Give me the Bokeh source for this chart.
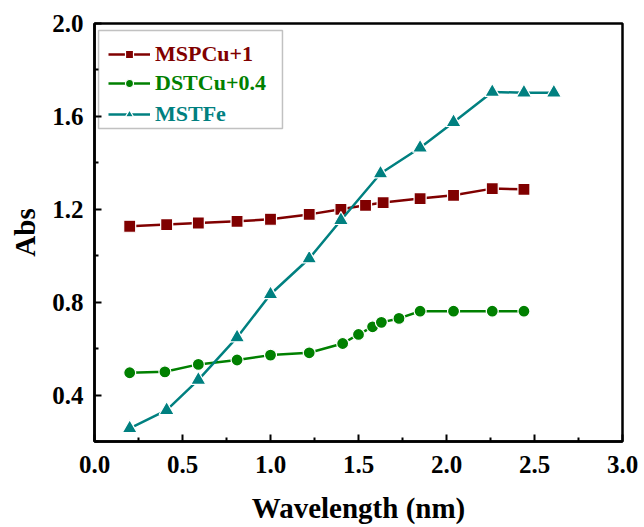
from bokeh.plotting import figure
from bokeh.models import Range1d, FixedTicker, Legend, LegendItem, BoxAnnotation, PrintfTickFormatter
from bokeh.embed import file_html
from bokeh.resources import INLINE

# ---- data ----
x_mspcu = [0.20, 0.41, 0.59, 0.81, 1.00, 1.22, 1.40, 1.54, 1.64, 1.85, 2.04, 2.26, 2.44]
y_mspcu = [1.127, 1.134, 1.141, 1.148, 1.157, 1.178, 1.200, 1.217, 1.229, 1.246, 1.260, 1.289, 1.286]

x_dstcu = [0.20, 0.40, 0.59, 0.81, 1.00, 1.22, 1.41, 1.50, 1.58, 1.63, 1.73, 1.85, 2.04, 2.26, 2.44]
y_dstcu = [0.496, 0.500, 0.532, 0.551, 0.572, 0.582, 0.622, 0.661, 0.694, 0.713, 0.730, 0.761, 0.761, 0.761, 0.761]

x_mstfe = [0.20, 0.41, 0.59, 0.81, 1.00, 1.22, 1.40, 1.625, 1.85, 2.04, 2.26, 2.44, 2.61]
y_mstfe = [0.257, 0.335, 0.465, 0.648, 0.834, 0.988, 1.153, 1.354, 1.465, 1.575, 1.705, 1.702, 1.702]

labels = ["MSPCu+1", "DSTCu+0.4", "MSTFe"]
colors = ["#800000", "#008000", "#008080"]

x_ticks = [0.0, 0.5, 1.0, 1.5, 2.0, 2.5, 3.0]
x_minor = [0.25, 0.75, 1.25, 1.75, 2.25, 2.75]
y_ticks = [0.4, 0.8, 1.2, 1.6, 2.0]
y_minor = [0.2, 0.6, 1.0, 1.4, 1.8]

x_title = "Wavelength (nm)"
y_title = "Abs"

FONT = "Liberation Serif"

p = figure(width=644, height=527, output_backend="svg", toolbar_location=None,
           x_range=Range1d(0, 3.0), y_range=Range1d(0.2, 2.0),
           min_border_left=94, min_border_right=22, min_border_top=23, min_border_bottom=86)
p.grid.visible = False
p.background_fill_color = "white"
p.border_fill_color = "white"
p.outline_line_color = "black"
p.outline_line_width = 2.5

for ax in (p.xaxis[0], p.yaxis[0]):
    ax.axis_line_width = 2.5
    ax.major_tick_line_width = 2
    ax.minor_tick_line_width = 2
    ax.major_tick_in = 7
    ax.major_tick_out = 0
    ax.minor_tick_in = 4
    ax.minor_tick_out = 0
    ax.major_label_text_font = FONT
    ax.major_label_text_font_style = "bold"
    ax.major_label_text_font_size = "25px"
    ax.major_label_text_color = "black"
    ax.axis_label_text_font = FONT
    ax.axis_label_text_font_style = "bold"
    ax.axis_label_text_font_size = "29px"
    ax.axis_label_text_color = "black"
    ax.major_label_standoff = 11
    ax.formatter = PrintfTickFormatter(format="%.1f")

p.xaxis[0].ticker = FixedTicker(ticks=x_ticks, minor_ticks=x_minor)
p.yaxis[0].ticker = FixedTicker(ticks=y_ticks, minor_ticks=y_minor)
p.xaxis[0].axis_label = x_title
p.yaxis[0].axis_label = y_title
p.xaxis[0].major_label_standoff = 14
p.xaxis[0].axis_label_standoff = 16
p.yaxis[0].axis_label_standoff = 8
p.yaxis[0].major_label_orientation = "horizontal"

series = [(x_mspcu, y_mspcu, "square", 12),
          (x_dstcu, y_dstcu, "circle", 12),
          (x_mstfe, y_mstfe, "triangle", 15)]

renderers = []
for (xs, ys, mk, sz), col in zip(series, colors):
    l = p.line(xs, ys, line_color=col, line_width=2.5)
    s = p.scatter(xs, ys, marker=mk, size=sz, fill_color=col, line_color="white", line_width=1.2)
    renderers.append((l, s))

# legend frame (data units)
p.add_layout(BoxAnnotation(left=0.023, right=1.068, top=1.97, bottom=1.548,
                           fill_alpha=0, line_color="#333333", line_width=1.5))

legend_y = [374, 345, 314]
for (l, s), lab, col, ly in zip(renderers, labels, colors, legend_y):
    lg = Legend(items=[LegendItem(label=lab, renderers=[l, s])],
                location=(14, ly), orientation="vertical",
                border_line_alpha=0, background_fill_alpha=0,
                padding=0, margin=0, spacing=0,
                glyph_width=42, glyph_height=20, label_height=20,
                label_standoff=5,
                label_text_font=FONT, label_text_font_style="bold",
                label_text_font_size="22px", label_text_color=col)
    p.add_layout(lg, "center")

open("out.html", "w").write(file_html(p, INLINE))
